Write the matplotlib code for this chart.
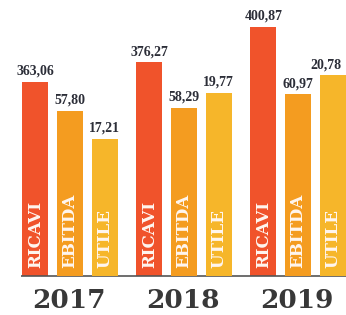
import matplotlib
matplotlib.use("Agg")
import matplotlib.pyplot as plt
import numpy as np

# data
years = ["2017", "2018", "2019"]
series = ["RICAVI", "EBITDA", "UTILE"]
ricavi = [363.06, 376.27, 400.87]
ebitda = [57.80, 58.29, 60.97]
utile = [17.21, 19.77, 20.78]

COLORS = {"RICAVI": "#f0532b", "EBITDA": "#f49c20", "UTILE": "#f6b62a"}
# the infographic draws each series on its own scale
YLIM = {"RICAVI": (229.5, 419.2), "EBITDA": (25.98, 79.1), "UTILE": (9.45, 25.03)}
OFFSET = {"RICAVI": -0.303, "EBITDA": 0.0, "UTILE": 0.303}
WIDTH = 0.228
INK = "#2c2e38"

fig = plt.figure(figsize=(3.46, 3.15), dpi=100)
fig.patch.set_facecolor("white")
rect = [0, 39 / 315, 1, 276 / 315]
x = np.arange(len(years))

base = None
for name, vals in zip(series, [ricavi, ebitda, utile]):
    ax = fig.add_axes(rect, label=name)
    ax.set_facecolor("none")
    ax.set_xlim(-0.614, 2.421)
    ax.set_ylim(*YLIM[name])
    ax.axis("off")
    xs = x + OFFSET[name]
    ax.bar(xs, vals, width=WIDTH, color=COLORS[name], bottom=0)
    for i, (xi, v) in enumerate(zip(xs, vals)):
        # last label sits against the right edge, nudge it in like the original
        dx = -4.5 if (name == "UTILE" and i == len(vals) - 1) else 0
        ax.annotate(f"{v:.2f}".replace(".", ","), (xi, v), xytext=(dx, 3),
                    textcoords="offset points", ha="center", va="bottom",
                    family="Liberation Serif", fontweight="bold", fontsize=10,
                    color=INK)
        ax.annotate(name, (xi, YLIM[name][0]), xytext=(0, 6),
                    textcoords="offset points", ha="center", va="bottom",
                    rotation=90, family="DejaVu Serif", fontweight="bold",
                    fontsize=12, color="#fff6f0")
    if base is None:
        base = ax

# baseline and year labels
base.plot([-0.43, 2.421], [YLIM["RICAVI"][0]] * 2, color="#555555", lw=1.2,
          clip_on=False, solid_capstyle="butt")
for xi, yr in zip(x, years):
    base.annotate(yr, (xi, YLIM["RICAVI"][0]), xytext=(-1, -9),
                  textcoords="offset points", ha="center", va="top",
                  family="DejaVu Serif", fontweight="bold", fontsize=19,
                  color="#383838", annotation_clip=False)

fig.savefig("out.png", dpi=100)
